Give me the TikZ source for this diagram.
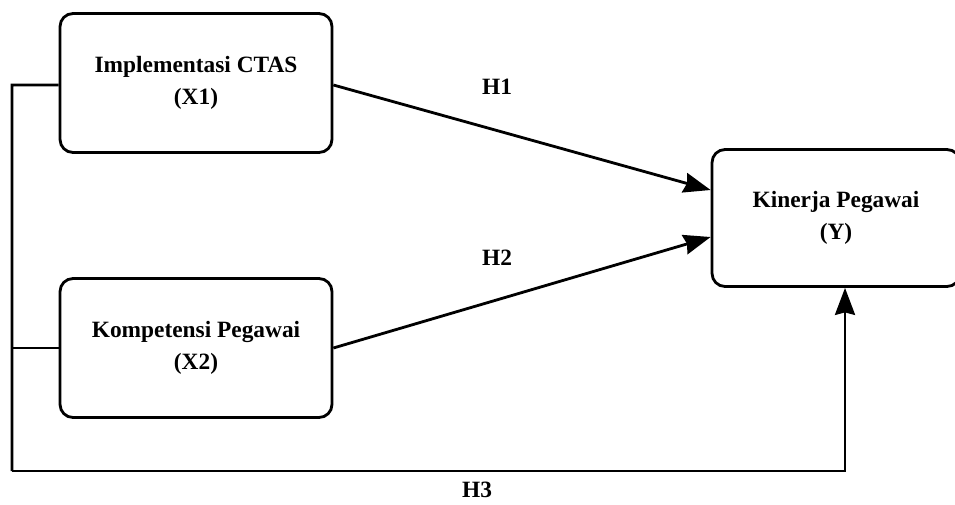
\documentclass[tikz,border=0pt]{standalone}
\usepackage{fontspec}
\setmainfont{Liberation Serif}
\usetikzlibrary{positioning,arrows.meta}
\tikzstyle{var} = [rectangle, rounded corners=0.26cm, minimum width=5.44cm, minimum height=2.78cm, text centered, draw=black, line width=1.6pt, align=center, font=\fontsize{13.3}{18}\selectfont\bfseries]
\tikzstyle{hyp} = [font=\fontsize{13.3}{16}\selectfont\bfseries]
\tikzstyle{arrow} = [line width=1.6pt,-{Stealth[length=5.4mm,width=4mm,inset=0.5mm]}]
\tikzstyle{link} = [line width=1.6pt]

\begin{document}
\begin{tikzpicture}[x=0.02cm,y=-0.02cm]
\useasboundingbox (0,0) rectangle (955,504);
 \node (kx1) [var] at (196,83) {Implementasi CTAS\\(X1)};
 \node (kx2) [var] at (196,348) {Kompetensi Pegawai\\(X2)};
 \node (ky) [var,minimum width=4.96cm,minimum height=2.74cm] at (836,218) {Kinerja Pegawai\\(Y)};
 \coordinate (ltop) at (12,85);
 \coordinate (lbot) at (12,471);
 \coordinate (rbot) at (845,471);
 \node (h1) [hyp] at (497,87) {H1};
 \node (h2) [hyp] at (497,258) {H2};
 \node (h3) [hyp] at (477,490) {H3};
\draw [arrow] ([yshift=-0.04cm]kx1.east) -- ([yshift=0.56cm]ky.west);
\draw [arrow] (kx2.east) -- ([yshift=-0.38cm]ky.west);
\draw [link] ([yshift=-0.04cm]kx1.west) -- (ltop) -- (lbot);
\draw [link] (kx2.west) -- (kx2.west -| ltop);
\draw [arrow] (lbot) -- (rbot) -- (ky.south -| rbot);
\end{tikzpicture}
\end{document}
